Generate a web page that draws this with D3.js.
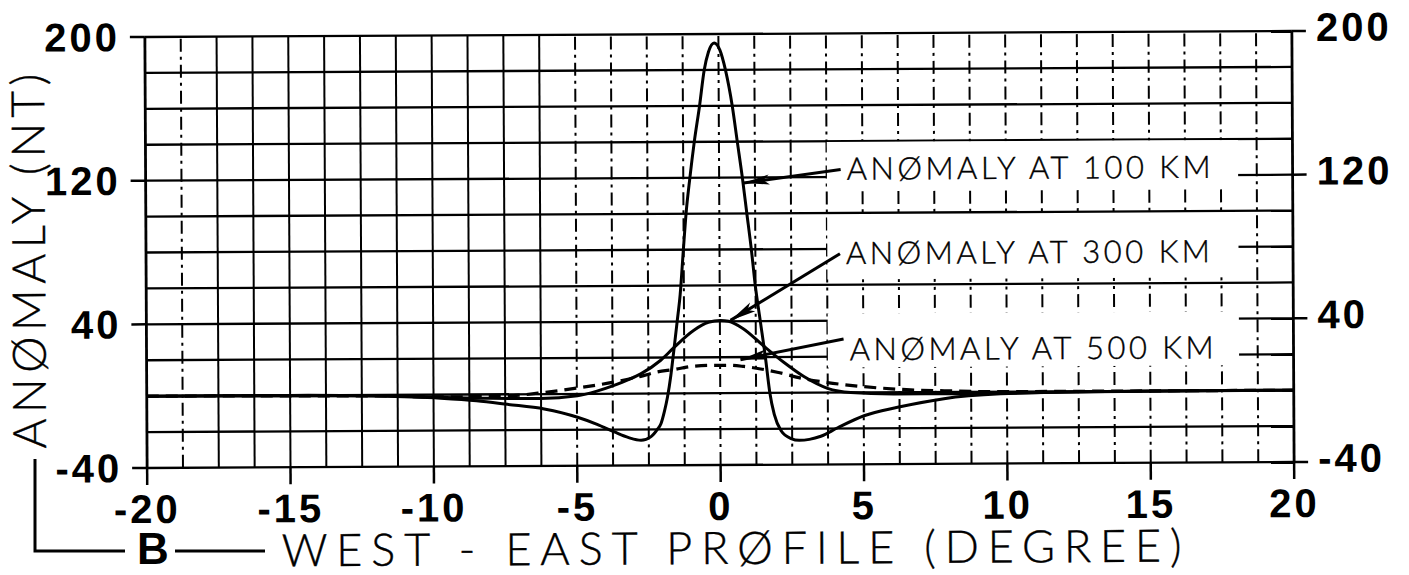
<!DOCTYPE html>
<html>
<head>
<meta charset="utf-8">
<script src="https://cdn.jsdelivr.net/npm/d3@7"></script>
<style>
  body { margin: 0; background: #fff; }
  svg { display: block; }
  .thin { font-family: Lato, "Open Sans", Inter, sans-serif; font-weight: 300; stroke: #000; stroke-width: 0.4; }
  .num { font-family: "Liberation Sans", Arial, sans-serif; font-weight: bold; }
</style>
</head>
<body>
<svg id="svg"></svg>
<script>
// values (degree, nT)
const deg100 = [-20, -15, -12, -9.75, -8.5, -7.42, -6.14, -4.98, -4.3, -3.7, -3.2, -2.77, -2.42, -2.2, -2.07, -1.95, -1.84, -1.72, -1.61, -1.49, -1.38, -1.26, -1.16, -1.02, -0.86, -0.67, -0.5, -0.35, -0.15, 0.05, 0.24, 0.47, 0.64, 0.81, 0.96, 1.11, 1.24, 1.41, 1.58, 1.73, 1.88, 2.11, 2.46, 2.75, 3.1, 3.5, 4.09, 5.01, 6.18, 7.8, 9.78, 12, 15, 20];
const val100 = [0, 0, -0.6, -2, -3.5, -5.6, -8.3, -13, -17, -21.3, -24.5, -26, -24, -20, -16.7, -10, -2, 10, 24, 40, 55, 80, 100, 120, 140, 160, 180, 190, 195, 191, 180, 160, 140, 120, 100, 80, 60, 40, 20, 0, -12, -21, -25.5, -26.5, -26, -24.3, -19.6, -13, -8.4, -3.7, -1.2, -0.4, 0, 0];

const deg300 = [-20, -12, -9.75, -8, -6.26, -4.98, -4.3, -3.7, -3.2, -2.77, -2.07, -1.61, -0.92, -0.4, 0.02, 0.3, 0.8, 1.53, 2.22, 2.92, 3.74, 4.55, 6.05, 8, 10, 13, 20];
const val300 = [0, -0.5, -1.5, -2.2, -2.4, -1, 1.5, 4.6, 7.8, 11, 18.5, 25.5, 35, 39.5, 40.5, 40, 36, 26, 17, 9, 2.4, 0, -0.9, -1, -0.8, -0.3, 0];

const deg500 = [-20, -12, -9.75, -7.42, -6.14, -4.98, -3.7, -2.77, -2.19, -1.61, -1, -0.33, 0.3, 0.83, 1.99, 2.92, 3.74, 5.01, 6.64, 8, 9.78, 20];
const val500 = [0, -0.5, -1.3, -0.9, 0.9, 3.3, 6.5, 9.6, 12, 13.3, 15, 15.5, 15.5, 14.8, 11.5, 7.8, 5.6, 3.2, 1.3, 0.6, 0, 0];

const xTicks = [-20, -15, -10, -5, 0, 5, 10, 15, 20];
const yTicks = [-40, 40, 120, 200];
const xGridStep = 1.25;
const yGridStep = 20;

const labelTexts = ["ANØMALY AT 100 KM", "ANØMALY AT 300 KM", "ANØMALY AT 500 KM"];
const labelBaseline = [118.5, 71.5, 18];          // nT
const labelBoxLow = [113, 63, 14];
const labelBoxHigh = [139.5, 98.5, 44];
const arrowTail = [[4.24, 124.2], [4.2, 77.3], [4.31, 29.8]];
const arrowTip = [[0.85, 116.9], [0.37, 40.5], [0.71, 18.6]];

const yTitle = "ANØMALY  (NT)";
const xTitle = "WEST - EAST PRØFILE (DEGREE)";
const panelLetter = "B";

const width = 1409;
const height = 575;

let svg = d3.select("#svg").attr("width", width).attr("height", height);
svg.append("rect").attr("width", width).attr("height", height).attr("fill", "#fff");

// the scan is slightly tilted
let root = svg.append("g").attr("transform", "rotate(-0.3,720,250)");

const xScale = d3.scaleLinear().domain([-20, 20]).range([146, 1293]);
const yScale = d3.scaleLinear().domain([-40, 200]).range([465, 34]);

// horizontal grid
root.append("g")
    .selectAll("line")
    .data(d3.range(-40, 200.01, yGridStep))
    .join("line")
    .attr("x1", xScale(-20)).attr("x2", xScale(20))
    .attr("y1", d => yScale(d)).attr("y2", d => yScale(d))
    .attr("stroke", "#000").attr("stroke-width", 2.3);

// vertical grid, solid on the left part, dash-dot elsewhere
let vIdx = d3.range(0, 40 / xGridStep + 1);
root.append("g")
    .selectAll("line")
    .data(vIdx)
    .join("line")
    .attr("x1", i => xScale(-20 + i * xGridStep)).attr("x2", i => xScale(-20 + i * xGridStep))
    .attr("y1", yScale(-40)).attr("y2", yScale(200))
    .attr("stroke", "#000")
    .attr("stroke-width", i => (i == 0 || i == 32) ? 2.8 : 2)
    .attr("stroke-dasharray", i => (i == 0 || i == 32 || (i >= 2 && i <= 11)) ? null : "13,5,3,5");

// white boxes behind the curve labels
root.append("g")
    .selectAll("rect")
    .data(labelTexts)
    .join("rect")
    .attr("x", xScale(3.76))
    .attr("width", xScale(18.1) - xScale(3.76))
    .attr("y", (d, i) => yScale(labelBoxHigh[i]))
    .attr("height", (d, i) => yScale(labelBoxLow[i]) - yScale(labelBoxHigh[i]))
    .attr("fill", "#fff");

// ticks
let ticks = root.append("g").attr("stroke", "#000").attr("stroke-width", 2.5);
ticks.selectAll(".tl").data(yTicks).join("line").attr("class", "tl")
    .attr("x1", xScale(-20) - 15).attr("x2", xScale(-20))
    .attr("y1", d => yScale(d)).attr("y2", d => yScale(d));
ticks.selectAll(".tr").data(yTicks).join("line").attr("class", "tr")
    .attr("x1", xScale(20)).attr("x2", xScale(20) + 14)
    .attr("y1", d => yScale(d)).attr("y2", d => yScale(d));
ticks.selectAll(".tb").data(xTicks).join("line").attr("class", "tb")
    .attr("x1", d => xScale(d)).attr("x2", d => xScale(d))
    .attr("y1", yScale(-40)).attr("y2", yScale(-40) + 17);

// tick labels
root.append("g").attr("class", "num")
    .selectAll("text").data(yTicks).join("text")
    .attr("x", xScale(-20) - 25).attr("y", d => yScale(d) + 14)
    .attr("text-anchor", "end").attr("font-size", 40).attr("letter-spacing", 3)
    .text(d => d);
root.append("g").attr("class", "num")
    .selectAll("text").data(yTicks).join("text")
    .attr("x", xScale(20) + 24).attr("y", d => yScale(d) + 10)
    .attr("font-size", 40).attr("letter-spacing", 3)
    .text(d => d);
root.append("g").attr("class", "num")
    .selectAll("text").data(xTicks).join("text")
    .attr("x", d => xScale(d)).attr("y", yScale(-40) + 55)
    .attr("text-anchor", "middle").attr("font-size", 40).attr("letter-spacing", 3)
    .text(d => d);

// curves
const line = (xs, vs) => d3.line()
    .x((d, i) => xScale(xs[i]))
    .y(d => yScale(d))
    .curve(d3.curveMonotoneX)(vs);

root.append("path").attr("d", line(deg100, val100))
    .attr("fill", "none").attr("stroke", "#000").attr("stroke-width", 3);
root.append("path").attr("d", line(deg300, val300))
    .attr("fill", "none").attr("stroke", "#000").attr("stroke-width", 3);
root.append("path").attr("d", line(deg500, val500))
    .attr("fill", "none").attr("stroke", "#000").attr("stroke-width", 3.2)
    .attr("stroke-dasharray", "12,7");

// annotation arrows
labelTexts.forEach((t, i) => {
    let x0 = xScale(arrowTail[i][0]), y0 = yScale(arrowTail[i][1]);
    let x1 = xScale(arrowTip[i][0]), y1 = yScale(arrowTip[i][1]);
    root.append("line")
        .attr("x1", x0).attr("y1", y0).attr("x2", x1).attr("y2", y1)
        .attr("stroke", "#000").attr("stroke-width", 3);
    let len = Math.hypot(x0 - x1, y0 - y1);
    let ux = (x0 - x1) / len, uy = (y0 - y1) / len;
    let bx = x1 + ux * 26, by = y1 + uy * 26;
    let pts = [[x1, y1], [bx - uy * 5, by + ux * 5], [x1 + ux * 20, y1 + uy * 20], [bx + uy * 5, by - ux * 5]];
    root.append("polygon").attr("points", pts.map(p => p.join(",")).join(" ")).attr("fill", "#000");

    root.append("text").attr("class", "thin")
        .attr("x", xScale(arrowTail[i][0]) + 6)
        .attr("y", yScale(labelBaseline[i]))
        .attr("font-size", 31)
        .attr("textLength", 364).attr("lengthAdjust", "spacing")
        .text(t);
});

// axis titles
root.append("text").attr("class", "thin")
    .attr("transform", "translate(45,445) rotate(-90)")
    .attr("font-size", 46)
    .attr("textLength", 375).attr("lengthAdjust", "spacing")
    .text(yTitle);

// bracket and panel letter (kept out of the tilted group)
svg.append("path")
    .attr("d", "M35,459 V551 H125 M175,551 H265")
    .attr("fill", "none").attr("stroke", "#000").attr("stroke-width", 3);

svg.append("text").attr("class", "num")
    .attr("x", 137).attr("y", 564)
    .attr("font-size", 44)
    .text(panelLetter);

root.append("text").attr("class", "thin")
    .attr("x", 280).attr("y", 564)
    .attr("font-size", 45)
    .attr("textLength", 900).attr("lengthAdjust", "spacing")
    .text(xTitle);
</script>
</body>
</html>
